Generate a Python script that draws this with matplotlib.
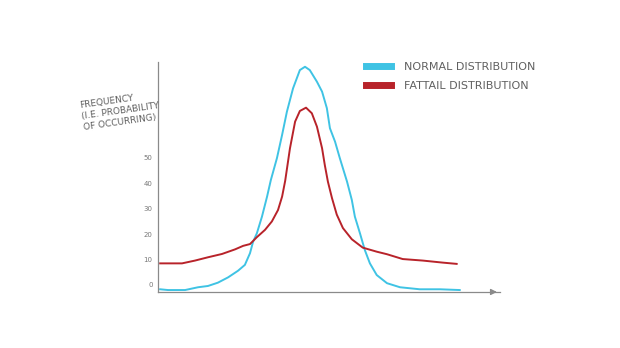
import matplotlib
matplotlib.use("Agg")
import matplotlib.pyplot as plt

# Normal distribution sketch (x in arbitrary units, y in "frequency")
normal_x = [0.6, 2.9, 7.9, 11.7, 14.6, 17.5, 20.5, 23.4, 25.4, 26.9, 27.8, 28.9, 30.4, 31.9,
            33.0, 34.8, 36.3, 37.7, 39.5, 41.5, 43.0, 44.4, 46.5, 48.0, 49.4, 50.3, 51.8,
            53.2, 55.3, 56.7, 57.6, 59.1, 60.5, 62.0, 64.0, 67.0, 70.8, 76.6, 82.5, 88.3]
normal_y = [-1.7, -2.0, -2.0, -0.9, -0.4, 0.9, 3.0, 5.6, 7.9, 12.5, 17.0, 20.3, 26.9, 34.8,
            41.3, 50.0, 59.1, 68.2, 77.4, 84.6, 85.9, 84.6, 80.0, 76.1, 69.6, 61.7, 56.4,
            49.9, 40.7, 33.5, 26.9, 20.3, 13.8, 8.5, 3.9, 0.7, -0.9, -1.7, -1.7, -2.0]

# Fat-tail distribution sketch
fat_x = [0.6, 2.9, 7.0, 10.8, 14.6, 18.7, 22.5, 24.9, 26.9, 28.9, 31.3, 33.3, 35.1, 36.3,
         37.2, 38.6, 40.1, 41.5, 43.3, 45.0, 46.5, 48.0, 48.8, 49.7, 50.9, 52.3, 54.1,
         56.7, 59.9, 64.0, 67.0, 71.6, 77.5, 83.3, 87.4]
fat_y = [8.5, 8.5, 8.5, 9.6, 10.9, 12.2, 14.0, 15.4, 16.1, 18.8, 21.7, 25.0, 29.5, 34.8,
         41.0, 53.8, 64.3, 68.5, 69.8, 67.6, 62.3, 53.8, 47.2, 40.7, 34.2, 27.7, 22.4,
         18.0, 14.7, 13.1, 12.1, 10.2, 9.6, 8.8, 8.3]

y_ticks = [0, 10, 20, 30, 40, 50]
y_tick_labels = ["0", "10", "20", "30", "40", "50"]
series_labels = ["NORMAL DISTRIBUTION", "FATTAIL DISTRIBUTION"]
y_label = "FREQUENCY\n(I.E. PROBABILITY\nOF OCCURRING)"

blue = "#3fc3e4"
red = "#b8232a"
ink = "#606060"

fig = plt.figure(figsize=(6.2, 3.48), dpi=100)
ax = fig.add_axes([0.255, 0.161, 0.551, 0.661])

ax.plot(normal_x, normal_y, color=blue, lw=1.4, label=series_labels[0],
        solid_joinstyle="round")
ax.plot(fat_x, fat_y, color=red, lw=1.4, label=series_labels[1],
        solid_joinstyle="round")

ax.set_xlim(0, 100)
ax.set_ylim(-2.76, 87.8)

for s in ["top", "right"]:
    ax.spines[s].set_visible(False)
for s in ["left", "bottom"]:
    ax.spines[s].set_color("#8a8a8a")
    ax.spines[s].set_linewidth(0.9)

ax.set_xticks([])
ax.set_yticks(y_ticks)
ax.set_yticklabels(y_tick_labels)
ax.tick_params(axis="y", length=0, pad=4, labelsize=5, labelcolor="#777777")

# arrow at end of x-axis
ax.annotate("", xy=(100, -2.76), xytext=(97, -2.76), xycoords="data",
            arrowprops=dict(arrowstyle="-|>", color="#8a8a8a", lw=0.9, mutation_scale=9),
            annotation_clip=False)

fig.text(0.128, 0.622, y_label, rotation=8, fontsize=6.5, color=ink,
         ha="left", va="bottom", linespacing=1.3, multialignment="left")

leg = ax.legend(loc="upper left", bbox_to_anchor=(0.58, 1.045), frameon=False,
                fontsize=8, handlelength=2.2, handletextpad=1.2, labelspacing=0.85,
                labelcolor=ink)
for h in leg.get_lines():
    h.set_linewidth(5)

fig.savefig("out.png", dpi=100, facecolor="white")
